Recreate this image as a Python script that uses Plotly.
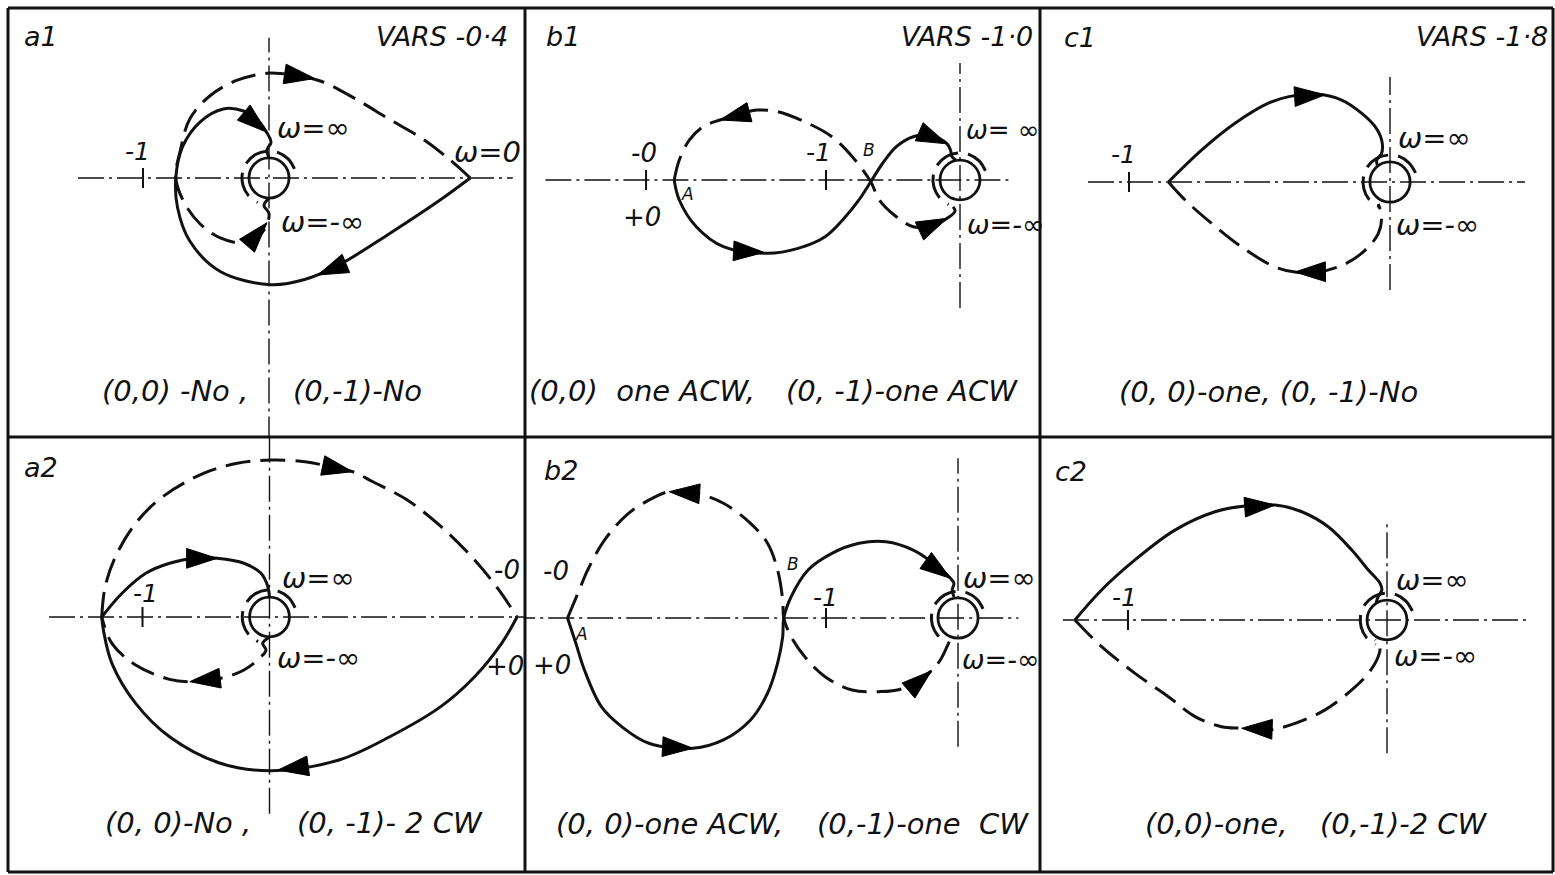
import plotly.graph_objects as go

W, H = 1555, 875
INK = "#111111"
FONT = "DejaVu Sans"

# ---------------------------------------------------------------------------
# Nyquist loci, points given as (Re, Im) in each panel's own units
# (unit = distance from the origin to the "-1" tick of that panel)
# ---------------------------------------------------------------------------
A1_SOLID = [(1.597, 0), (1.355, -0.177), (0.952, -0.444), (0.548, -0.694), (0.282, -0.806),
            (0.016, -0.847), (-0.387, -0.742), (-0.629, -0.5), (-0.726, -0.234), (-0.74, 0),
            (-0.685, 0.25), (-0.548, 0.444), (-0.363, 0.548), (-0.202, 0.532), (-0.097, 0.468),
            (-0.024, 0.371), (0.016, 0.282), (-0.016, 0.226), (0, 0.16)]
A1_DASH = [(0, -0.16), (-0.04, -0.218), (0, -0.282), (-0.024, -0.387), (-0.097, -0.476),
           (-0.202, -0.516), (-0.387, -0.476), (-0.548, -0.363), (-0.669, -0.202), (-0.74, 0),
           (-0.702, 0.226), (-0.629, 0.468), (-0.468, 0.653), (-0.258, 0.774), (-0.016, 0.831),
           (0.202, 0.815), (0.419, 0.766), (0.685, 0.629), (0.952, 0.468), (1.226, 0.306),
           (1.435, 0.145), (1.597, 0)]
A1_ARROWS = [((0.145, 0.823), (0.363, 0.79)), ((0.581, -0.69), (0.387, -0.77)),
             ((-0.121, 0.452), (-0.016, 0.363)), ((-0.121, -0.476), (-0.016, -0.355))]

A2_SOLID_OUTER = [(1.949, 0), (1.828, -0.207), (1.615, -0.47), (1.348, -0.706), (0.947, -0.943),
                  (0.547, -1.126), (0.013, -1.21), (-0.387, -1.152), (-0.787, -0.943),
                  (-1.054, -0.68), (-1.241, -0.365), (-1.308, -0.102), (-1.321, 0)]
A2_SOLID_INNER = [(-1.321, 0), (-1.161, 0.187), (-0.974, 0.344), (-0.787, 0.423), (-0.587, 0.465),
                  (-0.413, 0.462), (-0.201, 0.423), (-0.067, 0.344), (-0.013, 0.239), (0, 0.157)]
A2_DASH_OUTER = [(-1.321, 0), (-1.294, 0.239), (-1.213, 0.475), (-1.054, 0.738), (-0.841, 0.947),
                 (-0.52, 1.131), (-0.254, 1.21), (0.013, 1.236), (0.28, 1.223), (0.45, 1.19),
                 (0.654, 1.144), (0.814, 1.065), (1.085, 0.921), (1.352, 0.711), (1.615, 0.449),
                 (1.806, 0.213), (1.949, 0)]
A2_DASH_INNER = [(0, -0.157), (-0.054, -0.207), (-0.028, -0.26), (-0.067, -0.313), (-0.201, -0.417),
                 (-0.387, -0.483), (-0.627, -0.509), (-0.787, -0.491), (-1.054, -0.378),
                 (-1.241, -0.207), (-1.321, 0)]
A2_ARROWS = [((0.4, 1.197), (0.654, 1.144)), ((0.32, -1.17), (0.067, -1.205)),
             ((-0.614, 0.462), (-0.413, 0.462)), ((-0.4, -0.483), (-0.627, -0.509))]

B1_SOLID = [(-2.133, 0), (-2.095, -0.149), (-1.968, -0.349), (-1.766, -0.498), (-1.437, -0.547),
            (-1.209, -0.51), (-1.007, -0.423), (-0.855, -0.274), (-0.754, -0.149), (-0.666, -0.013),
            (-0.577, 0.125), (-0.475, 0.249), (-0.349, 0.323), (-0.222, 0.336), (-0.096, 0.27),
            (-0.07, 0.22), (-0.06, 0.175), (-0.03, 0.148)]
B1_DASH = [(-2.133, 0), (-2.095, 0.149), (-2.019, 0.299), (-1.918, 0.398), (-1.791, 0.448),
           (-1.642, 0.493), (-1.513, 0.522), (-1.361, 0.51), (-1.134, 0.423), (-0.956, 0.323),
           (-0.804, 0.174), (-0.666, -0.013), (-0.602, -0.149), (-0.475, -0.274), (-0.349, -0.349),
           (-0.222, -0.349), (-0.096, -0.286), (-0.037, -0.231), (-0.067, -0.172), (-0.045, -0.13)]
B1_ARROWS = [((-1.538, 0.515), (-1.791, 0.448)), ((-1.665, -0.53), (-1.463, -0.54)),
             ((-0.235, 0.33), (-0.096, 0.27)), ((-0.235, -0.35), (-0.096, -0.286))]

B2_SOLID = [(-2.958, 0), (-2.895, -0.192), (-2.83, -0.394), (-2.702, -0.672), (-2.548, -0.823),
            (-2.342, -0.949), (-2.008, -0.987), (-1.777, -0.924), (-1.572, -0.773), (-1.443, -0.57),
            (-1.367, -0.343), (-1.328, -0.142), (-1.32, 0), (-1.264, 0.161), (-1.136, 0.364),
            (-0.955, 0.49), (-0.75, 0.566), (-0.545, 0.578), (-0.339, 0.515), (-0.185, 0.414),
            (-0.057, 0.301), (-0.031, 0.263), (-0.044, 0.212), (-0.03, 0.159)]
B2_DASH = [(-2.958, 0), (-2.869, 0.212), (-2.805, 0.364), (-2.677, 0.591), (-2.496, 0.793),
           (-2.291, 0.919), (-2.188, 0.957), (-1.983, 0.945), (-1.777, 0.869), (-1.572, 0.717),
           (-1.443, 0.566), (-1.367, 0.364), (-1.328, 0.136), (-1.32, 0), (-1.264, -0.142),
           (-1.161, -0.293), (-1.007, -0.445), (-0.802, -0.545), (-0.596, -0.558), (-0.416, -0.533),
           (-0.212, -0.409), (-0.134, -0.318), (-0.083, -0.217), (-0.061, -0.167)]
B2_ARROWS = [((-1.944, 0.94), (-2.188, 0.957)), ((-2.226, -0.975), (-2.008, -0.987)),
             ((-0.198, 0.402), (-0.057, 0.301)), ((-0.37, -0.545), (-0.2, -0.4))]

C1_SOLID = [(-0.849, 0), (-0.721, 0.123), (-0.594, 0.225), (-0.466, 0.302), (-0.383, 0.328),
            (-0.275, 0.336), (-0.185, 0.314), (-0.108, 0.263), (-0.057, 0.212), (-0.032, 0.161),
            (-0.032, 0.11), (-0.051, 0.084), (-0.046, 0.057)]
C1_DASH = [(-0.849, 0), (-0.785, -0.069), (-0.683, -0.159), (-0.568, -0.249), (-0.44, -0.326),
           (-0.364, -0.345), (-0.275, -0.345), (-0.172, -0.314), (-0.096, -0.262), (-0.045, -0.198),
           (-0.032, -0.134), (-0.045, -0.084)]
C1_ARROWS = [((-0.351, 0.328), (-0.249, 0.334)), ((-0.268, -0.344), (-0.364, -0.345))]

C2_SOLID = [(-1.205, 0), (-1.102, 0.116), (-0.973, 0.232), (-0.819, 0.347), (-0.664, 0.418),
            (-0.548, 0.44), (-0.432, 0.444), (-0.329, 0.418), (-0.227, 0.36), (-0.136, 0.27),
            (-0.072, 0.193), (-0.027, 0.142), (-0.02, 0.116), (-0.034, 0.09), (-0.042, 0.066)]
C2_DASH = [(-1.205, 0), (-1.102, -0.103), (-0.973, -0.206), (-0.844, -0.296), (-0.741, -0.373),
           (-0.638, -0.412), (-0.561, -0.418), (-0.458, -0.425), (-0.355, -0.399), (-0.239, -0.347),
           (-0.136, -0.27), (-0.072, -0.206), (-0.034, -0.142), (-0.027, -0.103), (-0.046, -0.077)]
C2_ARROWS = [((-0.529, 0.437), (-0.432, 0.444)), ((-0.471, -0.421), (-0.561, -0.418))]

# dashed image of the small detour around the pole at the origin
A_DETOUR = [(0.202, 0.073), (0.152, 0.152), (0.073, 0.202), (-0.019, 0.213), (-0.107, 0.186),
            (-0.175, 0.123), (-0.211, 0.037), (-0.207, -0.056), (-0.164, -0.138), (-0.09, -0.194)]
B_DETOUR = [(0.19, 0.069), (0.143, 0.143), (0.069, 0.19), (-0.018, 0.201), (-0.101, 0.175),
            (-0.165, 0.116), (-0.199, 0.035), (-0.195, -0.052), (-0.154, -0.13), (-0.085, -0.183)]
C_DETOUR = [(0.098, 0.035), (0.073, 0.073), (0.035, 0.098), (-0.009, 0.103), (-0.052, 0.09),
            (-0.085, 0.06), (-0.102, 0.018), (-0.1, -0.027), (-0.08, -0.067), (-0.044, -0.094)]

# radius of the small solid circle about the origin, per panel
POLE_RADIUS = {"a1": 0.159, "b1": 0.149, "c1": 0.077, "a2": 0.157, "b2": 0.152, "c2": 0.077}

# extent of the Re / Im reference axes and the marked points on the Re axis
H_AXIS = {"a1": (-1.516, 1.935), "b1": (-3.094, 0.372), "c1": (-1.157, 0.517),
          "a2": (-1.736, 2.1), "b2": (-3.4, 0.457), "c2": (-1.251, 0.544)}
V_AXIS = {"a1": (-2.1, 1.113), "b1": (-0.955, 0.873), "c1": (-0.414, 0.402),
          "a2": (-1.55, 1.5), "b2": (-0.975, 1.21), "c2": (-0.514, 0.386)}
RE_TICKS = {"a1": [-1], "b1": [-2.343, -1], "c1": [-1], "a2": [-1], "b2": [-1], "c2": [-1]}

# labels tied to points of the plane: text, Re, Im, x-offset px, y-offset px, anchor, size
A1_LABELS = [("-1", -1, 0, -6, 26, "center", 25), ("ω=∞", 0, 0, 6, 50, "left", 29),
             ("ω=-∞", 0, 0, 10, -44, "left", 29), ("ω=0", 1.597, 0, -18, 26, "left", 29)]
A2_LABELS = [("-1", -1, 0, 3, 24, "center", 25), ("ω=∞", 0, 0, 10, 39, "left", 29),
             ("ω=-∞", 0, 0, 5, -41, "left", 29), ("-0", 1.949, 0, -10, 47, "center", 26),
             ("+0", 1.949, 0, -12, -49, "center", 26)]
B1_LABELS = [("-0", -2.343, 0, -2, 27, "center", 26), ("+0", -2.343, 0, -4, -37, "center", 26),
             ("A", -2.133, 0, 13, -14, "center", 17), ("-1", -1, 0, -8, 27, "center", 25),
             ("B", -0.666, 0, -2, 30, "center", 17), ("ω= ∞", 0, 0, 4, 50, "left", 26),
             ("ω=-∞", 0, 0, 5, -45, "left", 27)]
B2_LABELS = [("-0", -2.958, 0, -12, 47, "center", 26), ("+0", -2.958, 0, -16, -47, "center", 26),
             ("A", -2.958, 0, 14, -16, "center", 17), ("B", -1.32, 0, 9, 54, "center", 17),
             ("-1", -1, 0, -1, 21, "center", 25), ("ω=∞", 0, 0, 3, 40, "left", 29),
             ("ω=-∞", 0, 0, 2, -41, "left", 27)]
C1_LABELS = [("-1", -1, 0, -6, 27, "center", 25), ("ω=∞", 0, 0, 6, 44, "left", 29),
             ("ω=-∞", 0, 0, 4, -43, "left", 29)]
C2_LABELS = [("-1", -1, 0, -4, 23, "center", 25), ("ω=∞", 0, 0, 7, 40, "left", 29),
             ("ω=-∞", 0, 0, 5, -36, "left", 29)]

# panel headings and encirclement notes (page pixel position, anchor)
HEADERS = [("a1", 22, 36, "left"), ("VARS -0·4", 510, 36, "right"),
           ("b1", 544, 36, "left"), ("VARS -1·0", 1035, 36, "right"),
           ("c1", 1062, 38, "left"), ("VARS -1·8", 1550, 36, "right"),
           ("a2", 22, 468, "left"), ("b2", 542, 470, "left"), ("c2", 1053, 471, "left")]
CAPTIONS = [("(0,0) -No ,", 100, 391), ("(0,-1)-No", 291, 391),
            ("(0,0)  one ACW,", 527, 391), ("(0, -1)-one ACW", 784, 391),
            ("(0, 0)-one, (0, -1)-No", 1117, 392),
            ("(0, 0)-No ,", 103, 823), ("(0, -1)- 2 CW", 295, 823),
            ("(0, 0)-one ACW,", 554, 824), ("(0,-1)-one  CW", 815, 824),
            ("(0,0)-one,", 1143, 824), ("(0,-1)-2 CW", 1318, 824)]

# ---------------------------------------------------------------------------
# Panel layout: box on the page (x0, x1, y0, y1), origin pixel and pixels per unit
# ---------------------------------------------------------------------------
FRAME_X = [8, 525, 1040, 1553]
FRAME_Y = [8, 437, 872]

PANELS = [
    dict(name="a1", box=(8, 525, 8, 437), origin=(269, 178), unit=126,
         solid=[A1_SOLID], dashed=[A1_DASH, A_DETOUR], arrows=A1_ARROWS, labels=A1_LABELS),
    dict(name="b1", box=(525, 1040, 8, 437), origin=(960, 180), unit=134,
         solid=[B1_SOLID], dashed=[B1_DASH, B_DETOUR], arrows=B1_ARROWS, labels=B1_LABELS),
    dict(name="c1", box=(1040, 1553, 8, 437), origin=(1390, 182), unit=261,
         solid=[C1_SOLID], dashed=[C1_DASH, C_DETOUR], arrows=C1_ARROWS, labels=C1_LABELS),
    dict(name="a2", box=(8, 525, 437, 872), origin=(269.5, 617), unit=127,
         solid=[A2_SOLID_OUTER, A2_SOLID_INNER], dashed=[A2_DASH_OUTER, A2_DASH_INNER, A_DETOUR],
         arrows=A2_ARROWS, labels=A2_LABELS),
    dict(name="b2", box=(525, 1040, 437, 872), origin=(958, 618), unit=132,
         solid=[B2_SOLID], dashed=[B2_DASH, B_DETOUR], arrows=B2_ARROWS, labels=B2_LABELS),
    dict(name="c2", box=(1040, 1553, 437, 872), origin=(1387, 620), unit=259,
         solid=[C2_SOLID], dashed=[C2_DASH, C_DETOUR], arrows=C2_ARROWS, labels=C2_LABELS),
]

CURVE_W = 3
AXIS_W = 1.4
DASH = "25px,10px"
DASH_DOT = "26px,5px,3px,5px"
ARROW_SIZE = 32
TICK_HALF_PX = 10
HEADER_SIZE = 27
CAPTION_SIZE = 29


def split(points):
    return [p[0] for p in points], [p[1] for p in points]


fig = go.Figure()
shapes = []
annotations = []
layout_axes = {}

for i, p in enumerate(PANELS):
    suffix = "" if i == 0 else str(i + 1)
    xa, ya = "x" + suffix, "y" + suffix
    x0, x1, y0, y1 = p["box"]
    ox, oy = p["origin"]
    u = p["unit"]
    name = p["name"]

    layout_axes["xaxis" + suffix] = dict(
        domain=[x0 / W, x1 / W], range=[(x0 - ox) / u, (x1 - ox) / u],
        visible=False, fixedrange=True, anchor=ya)
    layout_axes["yaxis" + suffix] = dict(
        domain=[1 - y1 / H, 1 - y0 / H], range=[(oy - y1) / u, (oy - y0) / u],
        visible=False, fixedrange=True, anchor=xa)

    common = dict(xaxis=xa, yaxis=ya, showlegend=False, hoverinfo="skip")

    # Re and Im reference axes (chain lines)
    hx = H_AXIS[name]
    vy = V_AXIS[name]
    fig.add_trace(go.Scatter(x=list(hx), y=[0, 0], mode="lines",
                             line=dict(color=INK, width=AXIS_W, dash=DASH_DOT), **common))
    fig.add_trace(go.Scatter(x=[0, 0], y=list(vy), mode="lines",
                             line=dict(color=INK, width=AXIS_W, dash=DASH_DOT), **common))
    # marks on the Re axis
    half = TICK_HALF_PX / u
    tx, ty = [], []
    for t in RE_TICKS[name]:
        tx += [t, t, None]
        ty += [-half, half, None]
    fig.add_trace(go.Scatter(x=tx, y=ty, mode="lines",
                             line=dict(color=INK, width=2), **common))

    # locus for positive frequencies (solid) and negative frequencies (dashed)
    for pts in p["solid"]:
        x, y = split(pts)
        fig.add_trace(go.Scatter(x=x, y=y, mode="lines",
                                 line=dict(color=INK, width=CURVE_W, shape="spline", smoothing=1.0),
                                 **common))
    for pts in p["dashed"]:
        x, y = split(pts)
        fig.add_trace(go.Scatter(x=x, y=y, mode="lines",
                                 line=dict(color=INK, width=CURVE_W, dash=DASH,
                                           shape="spline", smoothing=1.0),
                                 **common))

    # direction arrows along the loci
    for base, tip in p["arrows"]:
        fig.add_trace(go.Scatter(
            x=[base[0], tip[0]], y=[base[1], tip[1]], mode="markers", opacity=1,
            marker=dict(symbol="arrow", size=[0, ARROW_SIZE], angleref="previous",
                        color="#000000", opacity=1, line=dict(width=1, color="#000000")),
            cliponaxis=False, **common))

    # small solid circle about the pole at the origin
    r = POLE_RADIUS[name]
    shapes.append(dict(type="circle", xref=xa, yref=ya, x0=-r, x1=r, y0=-r, y1=r,
                       line=dict(color=INK, width=2.8)))

    # labels in the plane
    for text, lx, ly, dx, dy, anchor, size in p["labels"]:
        annotations.append(dict(
            text=text, x=lx, y=ly, xref=xa, yref=ya, xshift=dx, yshift=dy,
            xanchor=anchor, yanchor="middle", showarrow=False,
            font=dict(family=FONT, size=size, color=INK, style="italic")))

for text, px, py, anchor in HEADERS:
    annotations.append(dict(
        text=text, x=px / W, y=1 - py / H, xref="paper", yref="paper",
        xanchor=anchor, yanchor="middle", showarrow=False,
        font=dict(family=FONT, size=HEADER_SIZE, color=INK, style="italic")))

for text, px, py in CAPTIONS:
    annotations.append(dict(
        text=text, x=px / W, y=1 - py / H, xref="paper", yref="paper",
        xanchor="left", yanchor="middle", showarrow=False,
        font=dict(family=FONT, size=CAPTION_SIZE, color=INK, style="italic")))

# panel frame
for fx in FRAME_X:
    shapes.append(dict(type="line", xref="paper", yref="paper",
                       x0=fx / W, x1=fx / W, y0=1 - FRAME_Y[-1] / H, y1=1 - FRAME_Y[0] / H,
                       line=dict(color=INK, width=3)))
for fy in FRAME_Y:
    shapes.append(dict(type="line", xref="paper", yref="paper",
                       x0=FRAME_X[0] / W, x1=FRAME_X[-1] / W, y0=1 - fy / H, y1=1 - fy / H,
                       line=dict(color=INK, width=3)))

fig.update_layout(
    width=W, height=H,
    margin=dict(l=0, r=0, t=0, b=0),
    paper_bgcolor="white", plot_bgcolor="white",
    shapes=shapes, annotations=annotations,
    **layout_axes,
)

fig.write_html("out.html", include_plotlyjs=True, config={"displayModeBar": False})
